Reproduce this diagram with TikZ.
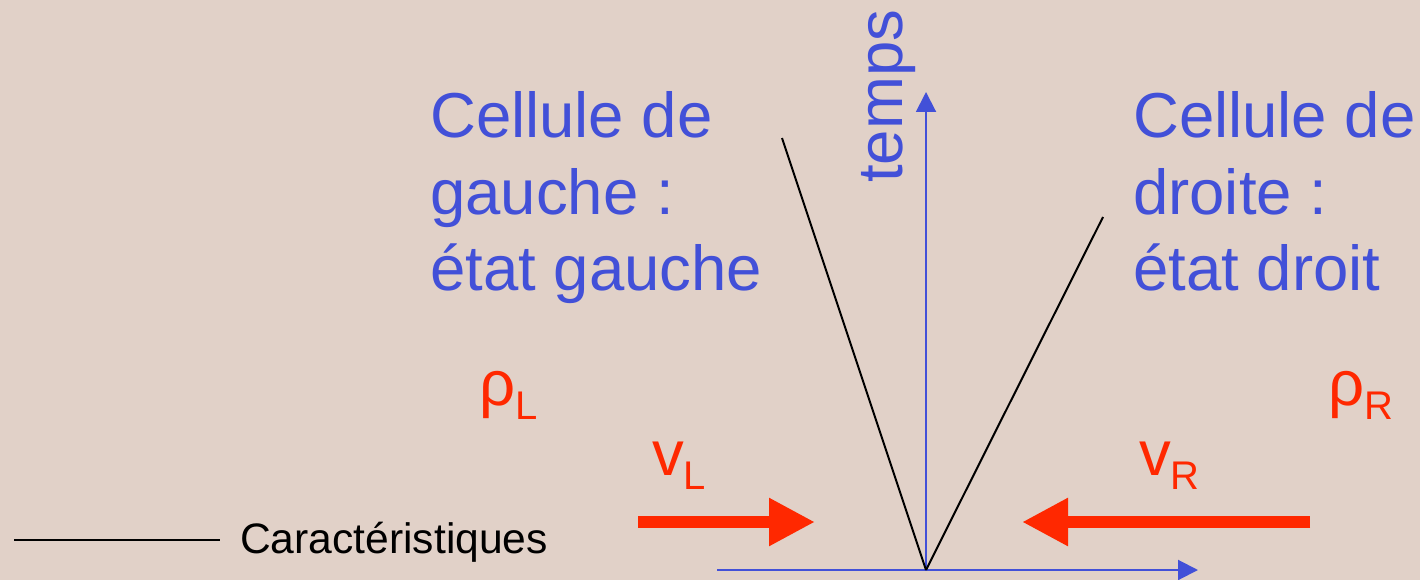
\documentclass[tikz,border=0pt]{standalone}
\usepackage{fontspec}
\setmainfont{Liberation Sans}
\usetikzlibrary{arrows.meta}
\definecolor{bgc}{RGB}{225,209,200}
\definecolor{bluec}{RGB}{66,80,216}
\definecolor{redc}{RGB}{255,40,0}
\tikzset{
  big/.style={inner sep=0pt, anchor=base west, font=\fontsize{63.5}{63.5}\selectfont},
  bluetxt/.style={big, text=bluec},
  redtxt/.style={big, text=redc},
  axis/.style={draw=bluec, line width=2pt, -{Triangle[length=20pt,width=20pt]}},
  charac/.style={draw=black, line width=2pt},
  flow/.style={draw=redc, line width=12pt, -{Triangle[length=46pt,width=45pt]}},
}
\newcommand{\subsc}[1]{\raisebox{-14pt}{\fontsize{40}{40}\selectfont #1}}
\begin{document}
\begin{tikzpicture}[x=1pt,y=-1pt]
\fill[bgc] (0,0) rectangle (1420,580);
\useasboundingbox (0,0) rectangle (1420,580);
% coordinates
\coordinate (O) at (926,570);
\coordinate (xs) at (717,570);
\coordinate (xe) at (1198,570);
\coordinate (ye) at (926,92);
\coordinate (cL) at (782,138);
\coordinate (cR) at (1103,217);
\coordinate (aLs) at (638,522);
\coordinate (aLe) at (815,522);
\coordinate (aRs) at (1310,522);
\coordinate (aRe) at (1022,522);
\coordinate (l1) at (14,540);
\coordinate (l2) at (220,540);
% axes
\draw[axis] (xs) -- (xe);
\draw[axis] (O) -- (ye);
% characteristics
\draw[charac] (O) -- (cL);
\draw[charac] (O) -- (cR);
% flows
\draw[flow] (aLs) -- (aLe);
\draw[flow] (aRs) -- (aRe);
% legend
\draw[draw=black, line width=1.5pt] (l1) -- (l2);
\node[inner sep=0pt, anchor=base west, font=\fontsize{42.6}{42.6}\selectfont] (leg) at (240,553) {Caractéristiques};
% texts
\node[bluetxt] (gl1) at (430,138) {Cellule de};
\node[bluetxt] (gl2) at (430,214) {gauche :};
\node[bluetxt] (gl3) at (430,290) {état gauche};
\node[bluetxt] (dr1) at (1133,138) {Cellule de};
\node[bluetxt] (dr2) at (1133,214) {droite :};
\node[bluetxt] (dr3) at (1133,290) {état droit};
\node[bluetxt, rotate=90] (temps) at (902,183) {temps};
\node[redtxt] (rhoL) at (479,405) {ρ\subsc{L}};
\node[redtxt] (rhoR) at (1328,405) {ρ\subsc{R}};
\node[redtxt] (vL) at (652,475) {v\subsc{L}};
\node[redtxt] (vR) at (1139,475) {v\subsc{R}};
\end{tikzpicture}
\end{document}
